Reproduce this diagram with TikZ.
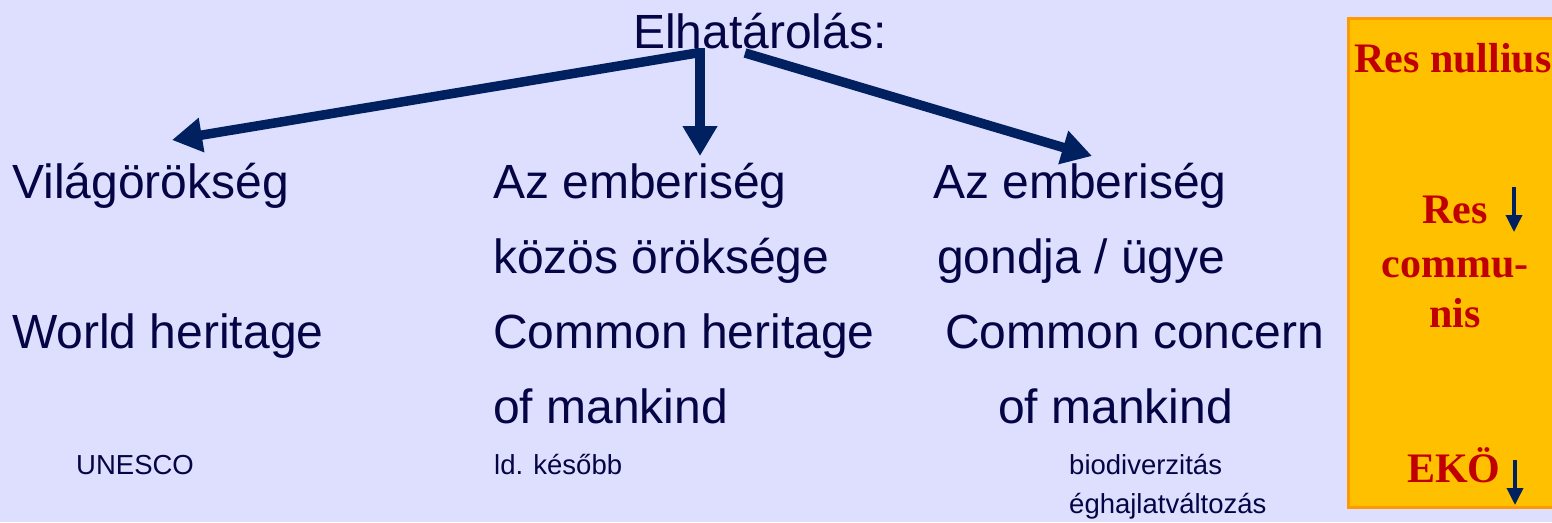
\documentclass[tikz,border=0pt]{standalone}
\usepackage{fontspec}
\setmainfont{Liberation Sans}
\newfontfamily\serifb{Liberation Serif}
\usetikzlibrary{arrows.meta}
\definecolor{bgc}{RGB}{222,222,255}
\definecolor{txt}{RGB}{5,5,70}
\definecolor{navy}{RGB}{0,32,96}
\definecolor{boxfill}{RGB}{255,192,0}
\definecolor{boxline}{RGB}{255,153,0}
\definecolor{redt}{RGB}{192,0,0}
\tikzset{
  big/.style={anchor=base west, inner sep=0pt, text=txt, font=\fontsize{48}{48}\selectfont},
  small/.style={anchor=base west, inner sep=0pt, text=txt, font=\fontsize{27.5}{27.5}\selectfont},
  redlbl/.style={inner sep=0pt, text=redt, font=\serifb\bfseries\fontsize{42}{42}\selectfont},
  bigarrow/.style={draw=navy, line width=9.5pt, -{Triangle[width=33pt,length=30pt]}},
  smallarrow/.style={draw=navy, line width=3.5pt, -{Triangle[width=16pt,length=17pt]}}
}
\begin{document}
\begin{tikzpicture}[x=1pt,y=-1pt]
\fill[bgc] (0,0) rectangle (1552,522);
\useasboundingbox (0,0) rectangle (1552,522);
% right box
\draw[fill=boxfill, draw=boxline, line width=3pt] (1348,18) rectangle (1565,507);
\node[redlbl, anchor=base west] (rn) at (1354,72) {Res nullius};
\node[redlbl, anchor=base] (res) at (1455,223) {Res};
\node[redlbl, anchor=base] (commu) at (1455,277) {commu-};
\node[redlbl, anchor=base] (nis) at (1455,327) {nis};
\node[redlbl, anchor=base west] (eko) at (1407,482) {EKÖ};
\coordinate (ra1) at (1514,187);
\coordinate (ra2) at (1514,232);
\coordinate (ea1) at (1515,460);
\coordinate (ea2) at (1515,505);
\draw[smallarrow] (ra1) -- (ra2);
\draw[smallarrow] (ea1) -- (ea2);
% title
\node[big] (title) at (633,48) {Elhatárolás:};
% columns
\node[big] (c1a) at (12,198) {Világörökség};
\node[big] (c1b) at (12,348) {World heritage};
\node[big] (c2a) at (493,198) {Az emberiség};
\node[big] (c2b) at (493,273) {közös öröksége};
\node[big] (c2c) at (493,348) {Common heritage};
\node[big] (c2d) at (493,423) {of mankind};
\node[big] (c3a) at (933,198) {Az emberiség};
\node[big] (c3b) at (937,273) {gondja / ügye};
\node[big] (c3c) at (945,348) {Common concern};
\node[big] (c3d) at (998,423) {of mankind};
\node[small] (s1) at (76,474) {UNESCO};
\node[small] (s2) at (494,474) {ld. később};
\node[small] (s3) at (1069,474) {biodiverzitás};
\node[small] (s4) at (1069,513) {éghajlatváltozás};
% arrows
\coordinate (a1s) at (697,53);
\coordinate (a1e) at (172,140);
\coordinate (a2s) at (700,48);
\coordinate (a2e) at (700,156);
\coordinate (a3s) at (745,53);
\coordinate (a3e) at (1092,156);
\draw[bigarrow] (a1s) -- (a1e);
\draw[bigarrow] (a2s) -- (a2e);
\draw[bigarrow] (a3s) -- (a3e);
\end{tikzpicture}
\end{document}
